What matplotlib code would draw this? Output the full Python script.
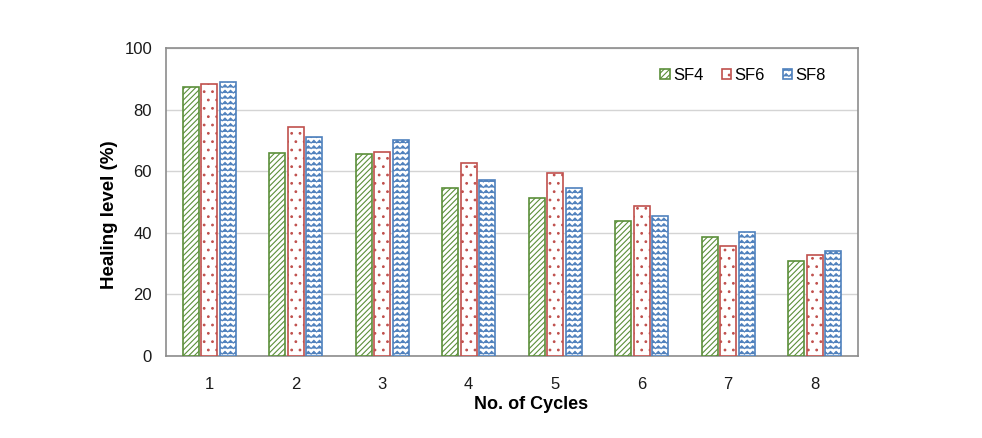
import warnings
warnings.filterwarnings("ignore")
import numpy as np
import matplotlib
matplotlib.use("Agg")
import matplotlib.pyplot as plt
import matplotlib.hatch as mhatch
from matplotlib.path import Path

cycles = ["1", "2", "3", "4", "5", "6", "7", "8"]
series_names = ["SF4", "SF6", "SF8"]
sf4 = [87.3, 65.9, 65.6, 54.5, 51.3, 43.8, 38.6, 30.8]
sf6 = [88.3, 74.4, 66.2, 62.7, 59.4, 48.7, 35.7, 32.8]
sf8 = [89.0, 71.1, 70.1, 57.1, 54.5, 45.5, 40.3, 34.1]
yticks = [0, 20, 40, 60, 80, 100]


class ZigZagHatch(mhatch.HatchPatternBase):
    def __init__(self, hatch, density):
        self.rows = hatch.count('v') * density
        self.nx = self.rows
        self.num_vertices = self.rows * (2 * self.nx + 1) if self.rows else 0

    def set_vertices_and_codes(self, vertices, codes):
        n = self.rows
        nx = self.nx
        k = 0
        amp = 0.5 / n
        for r in range(n):
            y = (r + 0.25) / n
            for i in range(2 * nx + 1):
                x = i / (2 * nx)
                yy = y + (amp if i % 2 else 0.0)
                vertices[k] = (x, yy)
                codes[k] = Path.MOVETO if i == 0 else Path.LINETO
                k += 1


mhatch._hatch_types.append(ZigZagHatch)

plt.rcParams['font.family'] = ['Liberation Sans', 'DejaVu Sans']
plt.rcParams['hatch.linewidth'] = 0.8

fig = plt.figure(figsize=(9.82, 4.38), dpi=100)
ax = fig.add_axes([166 / 982, 1 - 356 / 438, (858 - 166) / 982, (356 - 48) / 438])

x = np.arange(len(cycles))
w = 0.185
off = 0.215
colors = ["#5b8f3a", "#c0504d", "#4f81bd"]
hatches = ["//////", "..", "vvv"]
for j, (vals, name) in enumerate(zip([sf4, sf6, sf8], series_names)):
    ax.bar(x + (j - 1) * off, vals, width=w, facecolor="white",
           edgecolor=colors[j], linewidth=1.2, hatch=hatches[j], label=name, zorder=3)

ax.set_xlim(-0.5, len(cycles) - 0.5)
ax.set_ylim(0, 100)
ax.set_yticks(yticks)
ax.set_xticks(x)
ax.set_xticklabels(cycles)
ax.yaxis.grid(True, color="#d4d4d4", linewidth=1.0, zorder=0)
ax.set_axisbelow(True)
for s in ax.spines.values():
    s.set_color("#8c8c8c")
    s.set_linewidth(1.2)
ax.tick_params(axis='x', length=0, pad=15, labelsize=12, labelcolor="#1a1a1a")
ax.tick_params(axis='y', length=0, pad=10, labelsize=12, labelcolor="#1a1a1a")
ax.set_ylabel("Healing level (%)", fontsize=13.5, fontweight='bold')
ax.set_xlabel("No. of Cycles", fontsize=13, fontweight='bold')
ax.yaxis.set_label_coords(-0.069, 0.46)
ax.xaxis.set_label_coords(0.527, -0.13)

leg = ax.legend(loc='upper right', bbox_to_anchor=(0.975, 0.985), ncol=3, frameon=False,
                fontsize=12, handlelength=0.55, handleheight=0.55, handletextpad=0.2,
                columnspacing=1.1)

fig.savefig("out.png", dpi=100)
